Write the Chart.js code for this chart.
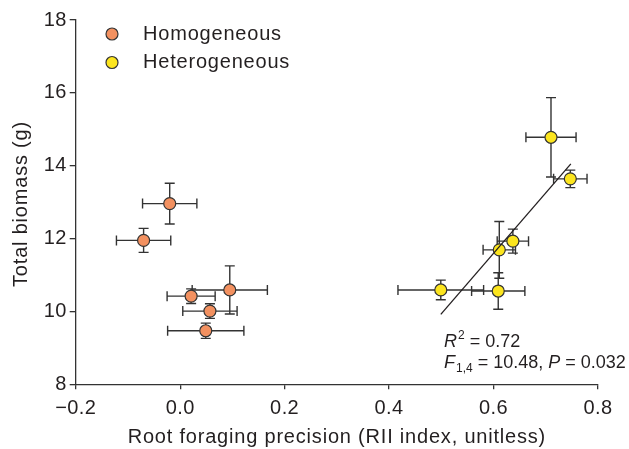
<!DOCTYPE html>
<html>
<head>
<meta charset="utf-8">
<script src="https://cdn.jsdelivr.net/npm/chart.js@4"></script>
<style>
  body { margin: 0; background: #fff; }
  canvas { display: block; }
</style>
</head>
<body>
<canvas id="chart" width="629" height="449"></canvas>
<script>
// values
const homX = [-0.02, -0.07, 0.095, 0.021, 0.057, 0.049];
const homXErr = [0.052, 0.052, 0.072, 0.046, 0.052, 0.073];
const homY = [12.96, 11.95, 10.59, 10.42, 10.01, 9.47];
const homYErr = [0.56, 0.33, 0.66, 0.2, 0.2, 0.21];

const hetX = [0.71, 0.747, 0.637, 0.611, 0.499, 0.609];
const hetXErr = [0.048, 0.032, 0.03, 0.031, 0.082, 0.051];
const hetY = [14.78, 13.64, 11.93, 11.69, 10.59, 10.56];
const hetYErr = [1.09, 0.24, 0.33, 0.78, 0.27, 0.5];

const fitX = [0.499, 0.748];
const fitY = [9.92, 14.05];

const xTicks = [-0.2, 0.0, 0.2, 0.4, 0.6, 0.8];
const yTicks = [8, 10, 12, 14, 16, 18];

const seriesNames = ["Homogeneous", "Heterogeneous"];
const xTitle = "Root foraging precision (RII index, unitless)";
const yTitle = "Total biomass (g)";

document.addEventListener("DOMContentLoaded", () => {
    const FONT = "'Liberation Sans', Arial, Helvetica, sans-serif";
    const INK = "#231f20";
    const AXIS = "#333333";
    const ORANGE = "#f39160";
    const YELLOW = "#fce51e";

    const toPoints = (xs, ys) => xs.map((v, i) => ({ x: v, y: ys[i] }));

    const groups = [
        { xs: homX, ys: homY, xErr: homXErr, yErr: homYErr },
        { xs: hetX, ys: hetY, xErr: hetXErr, yErr: hetYErr }
    ];

    // the original lettering runs a bit wider than Arial
    const spacing = {
        id: "spacing",
        beforeDraw(chart) {
            chart.ctx.letterSpacing = "0.4px";
        }
    };

    const errorBars = {
        id: "errorBars",
        beforeDatasetsDraw(chart) {
            const { ctx, scales: { x, y } } = chart;
            const cap = 5;
            ctx.save();
            ctx.strokeStyle = AXIS;
            ctx.lineWidth = 1.4;
            groups.forEach(g => {
                g.xs.forEach((v, i) => {
                    const px = x.getPixelForValue(v);
                    const py = y.getPixelForValue(g.ys[i]);
                    const x0 = x.getPixelForValue(v - g.xErr[i]);
                    const x1 = x.getPixelForValue(v + g.xErr[i]);
                    const y0 = y.getPixelForValue(g.ys[i] - g.yErr[i]);
                    const y1 = y.getPixelForValue(g.ys[i] + g.yErr[i]);
                    ctx.beginPath();
                    ctx.moveTo(x0, py); ctx.lineTo(x1, py);
                    ctx.moveTo(x0, py - cap); ctx.lineTo(x0, py + cap);
                    ctx.moveTo(x1, py - cap); ctx.lineTo(x1, py + cap);
                    ctx.moveTo(px, y0); ctx.lineTo(px, y1);
                    ctx.moveTo(px - cap, y0); ctx.lineTo(px + cap, y0);
                    ctx.moveTo(px - cap, y1); ctx.lineTo(px + cap, y1);
                    ctx.stroke();
                });
            });
            ctx.restore();
        }
    };

    const extras = {
        id: "extras",
        afterDraw(chart) {
            const ctx = chart.ctx;
            const area = chart.chartArea;
            ctx.save();
            ctx.fillStyle = INK;

            // axis titles
            ctx.letterSpacing = "0.8px";
            ctx.font = "20px " + FONT;
            ctx.textAlign = "center";
            ctx.textBaseline = "middle";
            ctx.fillText(xTitle, (area.left + area.right) / 2, 437);
            ctx.save();
            ctx.translate(21, 204);
            ctx.rotate(-Math.PI / 2);
            ctx.fillText(yTitle, 0, 0);
            ctx.restore();

            // legend
            const colors = [ORANGE, YELLOW];
            seriesNames.forEach((name, i) => {
                const cy = 34 + i * 28.5;
                ctx.beginPath();
                ctx.arc(112, cy, 6, 0, Math.PI * 2);
                ctx.fillStyle = colors[i];
                ctx.fill();
                ctx.lineWidth = 1.2;
                ctx.strokeStyle = AXIS;
                ctx.stroke();
                ctx.fillStyle = INK;
                ctx.font = "20px " + FONT;
                ctx.textAlign = "left";
                ctx.fillText(name, 143, cy);
            });

            // stats text
            ctx.letterSpacing = "0px";
            ctx.textBaseline = "alphabetic";
            ctx.textAlign = "left";
            ctx.fillStyle = INK;
            let x = 444, base = 347;
            ctx.font = "italic 18px " + FONT;
            ctx.fillText("R", x, base);
            x += ctx.measureText("R").width;
            ctx.font = "12px " + FONT;
            ctx.fillText("2", x + 1, base - 8);
            x += ctx.measureText("2").width + 1;
            ctx.font = "18px " + FONT;
            ctx.fillText(" = 0.72", x, base);

            x = 444; base = 368;
            ctx.font = "italic 18px " + FONT;
            ctx.fillText("F", x, base);
            x += ctx.measureText("F").width;
            ctx.font = "12px " + FONT;
            ctx.fillText("1,4", x + 1, base + 4);
            x += ctx.measureText("1,4").width + 1;
            ctx.font = "18px " + FONT;
            ctx.fillText(" = 10.48, ", x, base);
            x += ctx.measureText(" = 10.48, ").width;
            ctx.font = "italic 18px " + FONT;
            ctx.fillText("P", x, base);
            x += ctx.measureText("P").width;
            ctx.font = "18px " + FONT;
            ctx.fillText(" = 0.032", x, base);

            ctx.restore();
        }
    };

    const axisGrid = {
        display: true,
        drawOnChartArea: false,
        drawTicks: true,
        tickLength: 6,
        color: AXIS,
        lineWidth: 1.3
    };

    new Chart(document.getElementById("chart"), {
        type: "scatter",
        data: {
            datasets: [
                {
                    label: "fit",
                    type: "line",
                    data: toPoints(fitX, fitY),
                    borderColor: INK,
                    borderWidth: 1.3,
                    pointRadius: 0,
                    fill: false,
                    order: 0
                },
                {
                    label: seriesNames[0],
                    data: toPoints(homX, homY),
                    backgroundColor: ORANGE,
                    borderColor: AXIS,
                    borderWidth: 1.2,
                    pointRadius: 6,
                    order: 1
                },
                {
                    label: seriesNames[1],
                    data: toPoints(hetX, hetY),
                    backgroundColor: YELLOW,
                    borderColor: AXIS,
                    borderWidth: 1.2,
                    pointRadius: 6,
                    order: 2
                }
            ]
        },
        options: {
            responsive: false,
            animation: false,
            layout: { padding: { top: 20, right: 31, bottom: 0, left: 0 } },
            plugins: {
                legend: { display: false },
                tooltip: { enabled: false }
            },
            scales: {
                x: {
                    type: "linear",
                    min: xTicks[0],
                    max: xTicks[xTicks.length - 1],
                    afterBuildTicks: scale => {
                        scale.ticks = xTicks.map(v => ({ value: v }));
                    },
                    afterFit: scale => { scale.height = 64.7; },
                    grid: Object.assign({}, axisGrid, { tickLength: 5 }),
                    border: { display: true, color: AXIS, width: 1.3 },
                    ticks: {
                        color: INK,
                        padding: 7,
                        maxRotation: 0,
                        font: { family: FONT, size: 20 },
                        callback: v => (v < -1e-9 ? "\u2212" : "") + Math.abs(v).toFixed(1)
                    },
                    title: { display: false }
                },
                y: {
                    type: "linear",
                    min: yTicks[0],
                    max: yTicks[yTicks.length - 1],
                    afterBuildTicks: scale => {
                        scale.ticks = yTicks.map(v => ({ value: v }));
                    },
                    afterFit: scale => { scale.width = 75.7; },
                    grid: axisGrid,
                    border: { display: true, color: AXIS, width: 1.3 },
                    ticks: {
                        color: INK,
                        padding: 3,
                        font: { family: FONT, size: 20 },
                        callback: v => String(v)
                    },
                    title: { display: false }
                }
            }
        },
        plugins: [spacing, errorBars, extras]
    });
});
</script>
</body>
</html>
